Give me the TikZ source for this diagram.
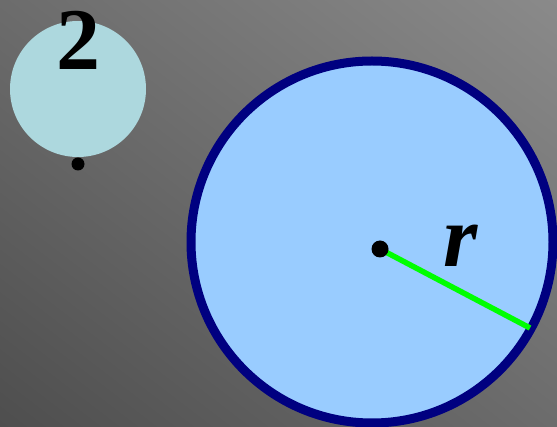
\documentclass[tikz,border=0pt]{standalone}
\usepackage{fontspec}
\setmainfont{Liberation Serif}
\newfontfamily\rfont{Liberation Serif Bold Italic}
\newfontfamily\twofont{Liberation Serif Bold}
\usetikzlibrary{shadings}
\definecolor{bgdark}{HTML}{4E4E4E}
\definecolor{bglight}{HTML}{8A8A8A}
\definecolor{smallfill}{HTML}{ADD8DE}
\definecolor{bigfill}{HTML}{99CCFF}
\definecolor{bigedge}{HTML}{000080}
\definecolor{radgreen}{HTML}{00FF00}
\tikzset{
  dotstyle/.style={circle, fill=black, inner sep=0pt},
  bigtext/.style={font=\fontsize{88}{88}\selectfont, inner sep=0pt, anchor=base},
}
\begin{document}
\begin{tikzpicture}[x=1pt,y=-1pt]
\useasboundingbox (0,0) rectangle (557,427);
\shade[lower left=bgdark, upper right=bglight, lower right=bgdark!50!bglight, upper left=bgdark!50!bglight] (0,0) rectangle (557,427);
% small circle
\node[circle, fill=smallfill, minimum size=136pt, inner sep=0pt] (small) at (78,89) {};
\node[bigtext] (two) at (78,70) {\twofont 2};
\node[dotstyle, minimum size=13pt] (sdot) at (78,164) {};
% big circle
\node[circle, draw=bigedge, line width=9pt, fill=bigfill, minimum size=362pt, inner sep=0pt] (big) at (372,242) {};
\coordinate (rim) at (530,328);
\coordinate (ctr) at (380,249);
\draw[radgreen, line width=5.5pt] (ctr) -- (rim);
\node[dotstyle, minimum size=17pt] (cdot) at (ctr) {};
\node[bigtext] (r) at (461,267) {\rfont r};
\end{tikzpicture}
\end{document}
